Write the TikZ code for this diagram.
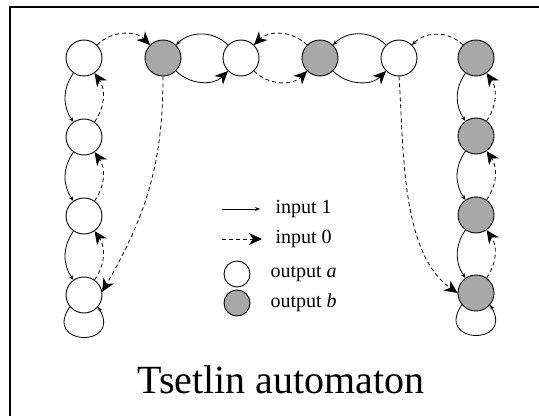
\documentclass[tikz,border=0pt]{standalone}
\usepackage{fontspec}
\setmainfont{Liberation Serif}
\usetikzlibrary{arrows.meta}

\definecolor{stategray}{RGB}{168,168,168}

\tikzset{
    state/.style={circle, draw, line width=0.9pt, minimum size=36pt, inner sep=0pt},
    statea/.style={state, fill=white},
    stateb/.style={state, fill=stategray},
    inone/.style={line width=0.8pt, -{Stealth[length=5pt, width=4pt]}},
    inonebig/.style={line width=0.8pt, -{Stealth[length=13pt, width=12pt, inset=4pt]}},
    inzero/.style={inonebig, dash pattern=on 4pt off 3pt},
    inzerosmall/.style={inone, dash pattern=on 4pt off 3pt},
    keytext/.style={anchor=west, font=\fontsize{20}{24}\selectfont},
}

\begin{document}
\begin{tikzpicture}[x=1pt, y=1pt]
    \useasboundingbox (0, 0) rectangle (539, 416);
    \draw [line width=1.2pt] (539, 409) -- (10, 409) -- (10, 0);

    \node [statea] (l1) at (84, 358) {};
    \node [statea] (l2) at (84, 279) {};
    \node [statea] (l3) at (84, 200) {};
    \node [statea] (l4) at (84, 121) {};
    \node [stateb] (t1) at (163, 358) {};
    \node [statea] (t2) at (241, 358) {};
    \node [stateb] (t3) at (320, 358) {};
    \node [statea] (t4) at (399, 358) {};
    \node [stateb] (r1) at (476, 358) {};
    \node [stateb] (r2) at (476, 280) {};
    \node [stateb] (r3) at (476, 201) {};
    \node [stateb] (r4) at (476, 123) {};

    \draw [inone] (l1) to [bend right=35] (l2);
    \draw [inone] (l2) to [bend right=35] (l3);
    \draw [inone] (l3) to [bend right=35] (l4);
    \draw [inzero] (l2) to [bend right=35] (l1);
    \draw [inzero] (l3) to [bend right=35] (l2);
    \draw [inzero] (l4) to [bend right=35] (l3);
    \draw [inone] (l4.-140) .. controls +(-125:48) and +(-60:48) .. (l4.-40);

    \draw [inone] (r1) to [bend right=35] (r2);
    \draw [inone] (r2) to [bend right=35] (r3);
    \draw [inone] (r3) to [bend right=35] (r4);
    \draw [inzero] (r2) to [bend right=35] (r1);
    \draw [inzero] (r3) to [bend right=35] (r2);
    \draw [inzero] (r4) to [bend right=35] (r3);
    \draw [inone] (r4.-140) .. controls +(-125:48) and +(-60:48) .. (r4.-40);

    \draw [inzero] (l1) to [bend left=45] (t1);
    \draw [inzero] (t1.south) to [out=-90, in=60] (l4.10);
    \draw [inone] (t2) to [bend right=45] (t1);
    \draw [inonebig] (t1) to [bend right=45] (t2);
    \draw [inzero] (t3) to [bend right=45] (t2);
    \draw [inzero] (t2) to [bend right=45] (t3);
    \draw [inone] (t4) to [bend right=45] (t3);
    \draw [inonebig] (t3) to [bend right=45] (t4);
    \draw [inzerosmall] (r1) to [bend right=45] (t4);
    \draw [inzero] (t4.south) to [out=-86, in=145, looseness=0.8] (r4.west);

    \coordinate (s1) at (222, 207);
    \coordinate (e1) at (260, 207);
    \draw [inone] (s1) -- (e1);
    \node [keytext] (k1) at (272, 207) {input 1};
    \coordinate (s0) at (222, 177);
    \coordinate (e0) at (262, 177);
    \draw [inzero] (s0) -- (e0);
    \node [keytext] (k0) at (272, 177) {input 0};
    \node [statea, minimum size=26pt] (ca) at (237, 142) {};
    \node [keytext] (ka) at (267, 142) {output \textit{a}};
    \node [stateb, minimum size=26pt] (cb) at (237, 113) {};
    \node [keytext] (kb) at (267, 113) {output \textit{b}};

    \node (title) at (281, 36) {\fontsize{40}{46}\selectfont Tsetlin automaton};
\end{tikzpicture}
\end{document}
